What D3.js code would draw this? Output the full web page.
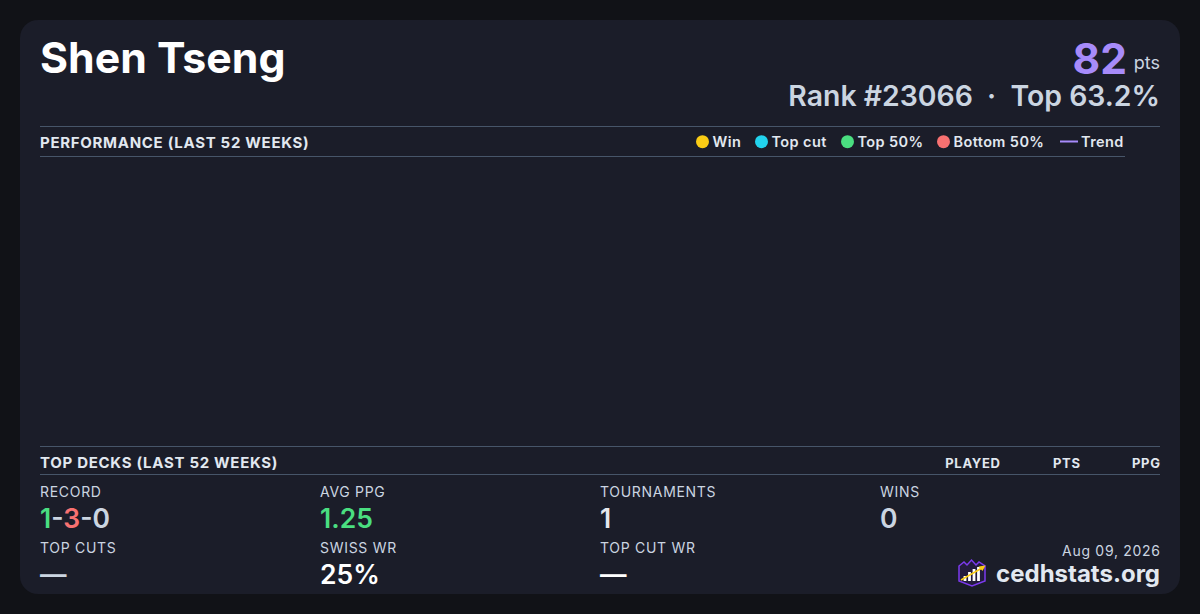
<!DOCTYPE html>
<html><head><meta charset="utf-8">
<script src="https://cdn.jsdelivr.net/npm/d3@7"></script>
<style>
html,body{margin:0;padding:0;background:#111217;}
svg{display:block;font-family:Inter,"Noto Sans",sans-serif;}
</style></head>
<body>
<svg id="c" width="1200" height="614"></svg>
<script>
// ---- data ----
const playerName = "Shen Tseng";
const points = 82;
const rank = 23066;
const topPct = 63.2;
const legendLabels = ["Win", "Top cut", "Top 50%", "Bottom 50%", "Trend"];
const legendColors = ["#facc15", "#22d3ee", "#4ade80", "#f87171", "#a78bfa"];
const perfWeeks = [];   // no weekly performance points in the last 52 weeks
const perfValues = [];
const deckColumns = ["PLAYED", "PTS", "PPG"];
const decks = [];
const statLabels = ["RECORD", "AVG PPG", "TOURNAMENTS", "WINS", "TOP CUTS", "SWISS WR", "TOP CUT WR"];
const recordWLD = [1, 3, 0];
const statValues = [null, "1.25", "1", "0", "—", "25%", "—"];
const dateLabel = "Aug 09, 2026";

const svg = d3.select("#c");
const W = 1200, H = 614;
const L = 40, R = 1160;

svg.append("rect").attr("width", W).attr("height", H).attr("fill", "#111217");
svg.append("rect").attr("x", 20).attr("y", 20).attr("width", 1160).attr("height", 574)
  .attr("rx", 18).attr("fill", "#1b1d29");

// header
svg.append("text").attr("x", L).attr("y", 73).attr("fill", "#ffffff")
  .attr("font-size", 42.8).attr("font-weight", 700).text(playerName);

svg.append("text").attr("x", R).attr("y", 69).attr("text-anchor", "end")
  .attr("fill", "#cbd5e1").attr("font-size", 18).text("pts");
svg.append("text").attr("x", R - 33).attr("y", 74).attr("text-anchor", "end")
  .attr("fill", "#a78bfa").attr("font-size", 42.5).attr("font-weight", 700).text(points);

svg.append("text").attr("x", R).attr("y", 106).attr("text-anchor", "end")
  .attr("fill", "#cbd5e1").attr("font-size", 28.4).attr("font-weight", 600)
  .attr("xml:space", "preserve")
  .text(`Rank #${rank}  ·  Top ${topPct.toFixed(1)}%`);

// performance section
const lineCol = "#475569";
const hdr = (t, x, y, anchor, size) => svg.append("text").attr("x", x).attr("y", y)
  .attr("text-anchor", anchor || "start").attr("fill", "#e2e8f0")
  .attr("font-size", size || 15).attr("font-weight", 700).attr("letter-spacing", 0.7).text(t);

svg.append("line").attr("x1", L).attr("x2", R).attr("y1", 126.5).attr("y2", 126.5).attr("stroke", lineCol);
hdr("PERFORMANCE (LAST 52 WEEKS)", L, 147.5);
svg.append("line").attr("x1", L).attr("x2", 1125).attr("y1", 156.5).attr("y2", 156.5).attr("stroke", lineCol);

// legend
const legX = [702.5, 761.5, 847.5, 943.5, 1060];
const lg = svg.append("g");
legendLabels.forEach((lab, i) => {
  if (lab === "Trend") {
    lg.append("line").attr("x1", legX[i]).attr("x2", legX[i] + 18).attr("y1", 141.5).attr("y2", 141.5)
      .attr("stroke", legendColors[i]).attr("stroke-width", 2);
    lg.append("text").attr("x", legX[i] + 21).attr("y", 147).attr("fill", "#e2e8f0")
      .attr("font-size", 14.5).attr("font-weight", 600).attr("letter-spacing", 0.4).text(lab);
  } else {
    lg.append("circle").attr("cx", legX[i]).attr("cy", 141.7).attr("r", 6.5).attr("fill", legendColors[i]);
    lg.append("text").attr("x", legX[i] + 10).attr("y", 147).attr("fill", "#e2e8f0")
      .attr("font-size", 14.5).attr("font-weight", 600).attr("letter-spacing", 0.4).text(lab);
  }
});

// chart plot area (empty: no data)
const x = d3.scaleLinear().domain([0, 51]).range([L, 1125]);
const y = d3.scaleLinear().domain([0, 4]).range([430, 170]);
const plot = svg.append("g");
plot.selectAll("circle").data(perfValues).join("circle")
  .attr("cx", (d, i) => x(perfWeeks[i])).attr("cy", d => y(d)).attr("r", 5);

// top decks section
svg.append("line").attr("x1", L).attr("x2", R).attr("y1", 446.5).attr("y2", 446.5).attr("stroke", lineCol);
hdr("TOP DECKS (LAST 52 WEEKS)", L, 467.5);
const colX = [1000, 1080, 1160];
deckColumns.forEach((c, i) => hdr(c, colX[i] + 0.7, 467.5, "end", 13));
svg.append("line").attr("x1", L).attr("x2", R).attr("y1", 474.5).attr("y2", 474.5).attr("stroke", lineCol);

// stats grid
const sx = [40, 320, 600, 880, 40, 320, 600];
const sy = [497, 497, 497, 497, 553, 553, 553];
statLabels.forEach((lab, i) => {
  svg.append("text").attr("x", sx[i]).attr("y", sy[i]).attr("fill", "#cbd5e1")
    .attr("font-size", 14).attr("letter-spacing", 0.7).text(lab);
  const vy = sy[i] + 31;
  if (lab === "RECORD") {
    const t = svg.append("text").attr("x", sx[i]).attr("y", vy).attr("font-size", 26.5).attr("font-weight", 600);
    t.append("tspan").attr("fill", "#4ade80").text(recordWLD[0]);
    t.append("tspan").attr("fill", "#cbd5e1").text("-");
    t.append("tspan").attr("fill", "#f87171").text(recordWLD[1]);
    t.append("tspan").attr("fill", "#cbd5e1").text("-" + recordWLD[2]);
  } else {
    let col = "#ffffff";
    if (lab === "AVG PPG") col = "#4ade80";
    if (lab === "WINS" || lab === "TOP CUTS") col = "#cbd5e1";
    if (lab === "TOURNAMENTS") col = "#e5e7eb";
    svg.append("text").attr("x", sx[i]).attr("y", vy).attr("fill", col)
      .attr("font-size", 26.5).attr("font-weight", 600).text(statValues[i]);
  }
});

// footer
svg.append("text").attr("x", R + 0.7).attr("y", 555.5).attr("text-anchor", "end")
  .attr("fill", "#cbd5e1").attr("font-size", 14).attr("letter-spacing", 0.7).text(dateLabel);
svg.append("text").attr("x", R).attr("y", 582).attr("text-anchor", "end")
  .attr("fill", "#e2e8f0").attr("font-size", 24).attr("font-weight", 700).text("cedhstats.org");

// logo
const lgo = svg.append("g").attr("transform", "translate(958,559)");
lgo.append("path").attr("d", "M1,7 L6,3 L9,6 L13.5,1 L18,6 L21,3 L27,7 L27,22 L14,27 L1,22 Z")
  .attr("fill", "#231c3d").attr("stroke", "#7c3aed").attr("stroke-width", 1.5);
[[7, 17, 5], [11.5, 13, 9], [16, 10, 12], [20.5, 8, 14]].forEach(([bx, by, bh]) => {
  lgo.append("rect").attr("x", bx - 1.4).attr("y", by).attr("width", 2.8).attr("height", bh).attr("fill", "#ffffff");
});
lgo.append("line").attr("x1", 3).attr("y1", 21).attr("x2", 24).attr("y2", 9)
  .attr("stroke", "#facc15").attr("stroke-width", 1.6);
lgo.append("path").attr("d", "M27.5,6.5 L20.5,7.5 L24.5,12 Z").attr("fill", "#facc15");
</script>
</body></html>
